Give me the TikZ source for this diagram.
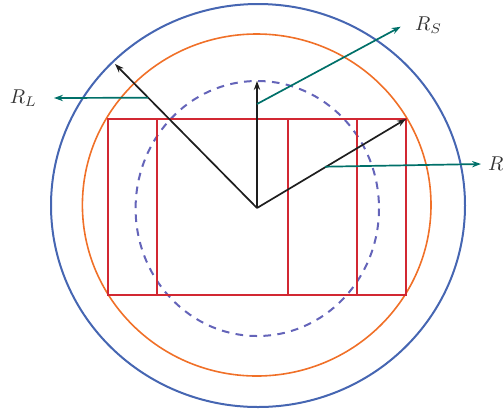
\documentclass[tikz,border=0pt]{standalone}
\usepackage{amsmath}
\usepackage{xcolor}
\usepackage{tikz}
\usetikzlibrary{arrows.meta, positioning, calc}
\definecolor{outerring}{RGB}{70,102,178}
\definecolor{midring}{RGB}{240,112,40}
\definecolor{innerring}{RGB}{100,100,185}
\definecolor{boxred}{RGB}{210,40,50}
\definecolor{radteal}{RGB}{0,112,105}
\definecolor{radblack}{RGB}{30,30,30}

\begin{document}
\begin{tikzpicture}[x=0.5pt, y=-0.5pt,
    raio/.style={radblack, line width=0.85pt, -{Stealth[length=4.5pt,width=3.2pt]}},
    pointer/.style={radteal, line width=0.85pt, -{Stealth[length=4.5pt,width=3.2pt]}},
    lbl/.style={font=\normalsize, text=black!80}]
    \useasboundingbox (0,0) rectangle (503,414);

    % --- Circulos ---
    \draw[outerring, line width=1pt] (258,205.5) ellipse [x radius=207, y radius=201.5];
    \draw[midring, line width=0.8pt] (256.7,205) ellipse [x radius=174.3, y radius=171];
    \draw[innerring, line width=1pt, dash pattern=on 3.8pt off 3.2pt] (257.3,208.5) ellipse [x radius=121.7, y radius=127.5];

    % --- Retangulo e divisoes ---
    \draw[boxred, line width=0.85pt] (108,119) rectangle (406,295);
    \foreach \xx in {157, 288, 357} {
      \draw[boxred, line width=0.85pt] (\xx,119) -- (\xx,295);
    }

    % --- Raios (pretos) ---
    \coordinate (O) at (257,208);
    \coordinate (Atip) at (115,64);     % raio externo
    \coordinate (Btip) at (406,119);    % canto do retangulo
    \coordinate (Ctip) at (257,81);     % raio tracejado
    \draw[raio] (O) -- (Atip);
    \draw[raio] (O) -- (Btip);
    \draw[raio] (O) -- (Ctip);

    % --- Indicadores (verde) ---
    \coordinate (RLfrom) at ($(O)!0.766!(Atip)$);
    \coordinate (RLtip) at (54,98);
    \coordinate (RSfrom) at (257,104);
    \coordinate (RStip) at (400.7,26.7);
    \coordinate (Rfrom) at (325,166.7);
    \coordinate (Rtip) at (481,164);
    \draw[pointer] (RLfrom) -- (RLtip);
    \draw[pointer] (RSfrom) -- (RStip);
    \draw[pointer] (Rfrom) -- (Rtip);

    \node[lbl, left=5pt of RLtip] (RLlab) {$R_L$};
    \node[lbl, right=3.7pt of RStip, yshift=1pt] (RSlab) {$R_S$};
    \node[lbl, right=0pt of Rtip] (Rlab) {$R$};
  \end{tikzpicture}
\end{document}
